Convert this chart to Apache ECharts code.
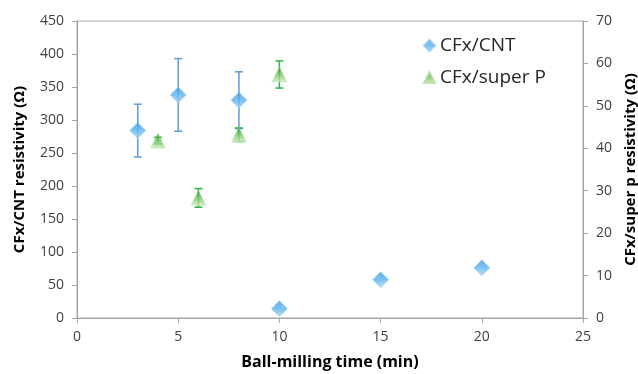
<!DOCTYPE html>
<html>
<head>
<meta charset="utf-8">
<script src="https://cdn.jsdelivr.net/npm/echarts@6/dist/echarts.min.js"></script>
<style>html,body{margin:0;padding:0;background:#fff;}#c{width:638px;height:374px;}</style>
</head>
<body>
<div id="c"></div>
<script>
// Data
const cntTime = [3, 5, 8, 10, 15, 20];
const cntRes = [284, 338, 330, 14, 58, 76];
const cntErr = [40, 55, 43, 0, 0, 0];
const spTime = [4, 6, 8, 10];
const spRes = [41.8, 28.3, 43.2, 57.4];
const spErr = [0.8, 2.2, 1.6, 3.2];
const xTicks = [0, 5, 10, 15, 20, 25];

const chart = echarts.init(document.getElementById('c'), null, {renderer: 'canvas'});
const font = '"Open Sans", "Noto Sans", sans-serif';

function errData(xs, ys, es) {
  const out = [];
  for (let i = 0; i < xs.length; i++) if (es[i] > 0) out.push([xs[i], ys[i] - es[i], ys[i] + es[i]]);
  return out;
}
function errRender(color) {
  return function (params, api) {
    const x = api.value(0);
    const top = api.coord([x, api.value(2)]);
    const bot = api.coord([x, api.value(1)]);
    const w = 4;
    const st = {stroke: color, lineWidth: 1.5};
    return {type: 'group', children: [
      {type: 'line', shape: {x1: top[0], y1: top[1], x2: bot[0], y2: bot[1]}, style: st},
      {type: 'line', shape: {x1: top[0] - w, y1: top[1], x2: top[0] + w, y2: top[1]}, style: st},
      {type: 'line', shape: {x1: bot[0] - w, y1: bot[1], x2: bot[0] + w, y2: bot[1]}, style: st}
    ]};
  };
}

const blueGrad = new echarts.graphic.LinearGradient(0, 0, 0, 1, [
  {offset: 0, color: '#3f9ee6'}, {offset: 0.5, color: '#5cb2ee'}, {offset: 1, color: '#a9d8f7'}]);
const greenGrad = new echarts.graphic.LinearGradient(0, 0, 0, 1, [
  {offset: 0, color: '#2e9a3a'}, {offset: 0.55, color: '#7cc86a'}, {offset: 1, color: '#d3eec3'}]);

const axisLine = {show: true, lineStyle: {color: '#a6a6a6', width: 1}};
const axisTick = {show: true, length: 5, lineStyle: {color: '#a6a6a6'}};
const tickLabel = {color: '#404040', fontSize: 14, fontFamily: font};
const nameStyle = {color: '#000', fontSize: 15, fontWeight: 'bold', fontFamily: font};

chart.setOption({
  animation: false,
  backgroundColor: '#fff',
  grid: {left: 77, right: 55, top: 21, bottom: 56, containLabel: false, outerBoundsMode: 'none',
    show: true, borderColor: '#a6a6a6', borderWidth: 1},
  legend: {
    orient: 'vertical', left: 418, top: 31, itemGap: 13, itemWidth: 11, itemHeight: 11,
    textStyle: {color: '#262626', fontSize: 19, fontFamily: font},
    data: [{name: 'CFx/CNT', icon: 'diamond'}, {name: 'CFx/super P', icon: 'triangle'}]
  },
  xAxis: {
    type: 'value', min: 0, max: 25, interval: 5,
    axisLine: axisLine, axisTick: axisTick, splitLine: {show: false},
    axisLabel: Object.assign({margin: 12, formatter: v => xTicks.includes(v) ? String(v) : ''}, tickLabel),
    name: 'Ball-milling time (min)', nameLocation: 'middle', nameGap: 36,
    nameTextStyle: Object.assign({}, nameStyle, {fontSize: 16})
  },
  yAxis: [{
    type: 'value', min: 0, max: 450, interval: 50,
    axisLine: axisLine, axisTick: axisTick, splitLine: {show: false},
    axisLabel: Object.assign({margin: 13}, tickLabel),
    name: 'CFx/CNT resistivity (Ω)', nameLocation: 'middle', nameGap: 50, nameTextStyle: nameStyle
  }, {
    type: 'value', min: 0, max: 70, interval: 10, position: 'right',
    axisLine: axisLine, axisTick: axisTick, splitLine: {show: false},
    axisLabel: Object.assign({margin: 13}, tickLabel),
    name: 'CFx/super p resistivity (Ω)', nameLocation: 'middle', nameGap: 40, nameRotate: 90, nameTextStyle: nameStyle
  }],
  series: [
    {type: 'custom', name: 'errCNT', yAxisIndex: 0, renderItem: errRender('#5b9bd5'), data: errData(cntTime, cntRes, cntErr), z: 1, silent: true},
    {type: 'custom', name: 'errSP', yAxisIndex: 1, renderItem: errRender('#2fb34a'), data: errData(spTime, spRes, spErr), z: 1, silent: true},
    {type: 'scatter', name: 'CFx/CNT', yAxisIndex: 0, symbol: 'diamond', symbolSize: 16,
      itemStyle: {color: blueGrad, borderColor: '#8cc8f2', borderWidth: 0.5},
      data: cntTime.map((t, i) => [t, cntRes[i]]), z: 3},
    {type: 'scatter', name: 'CFx/super P', yAxisIndex: 1, symbol: 'triangle', symbolSize: 15,
      itemStyle: {color: greenGrad, borderColor: '#b7df9f', borderWidth: 0.5},
      data: spTime.map((t, i) => [t, spRes[i]]), z: 3}
  ]
});
</script>
</body>
</html>
